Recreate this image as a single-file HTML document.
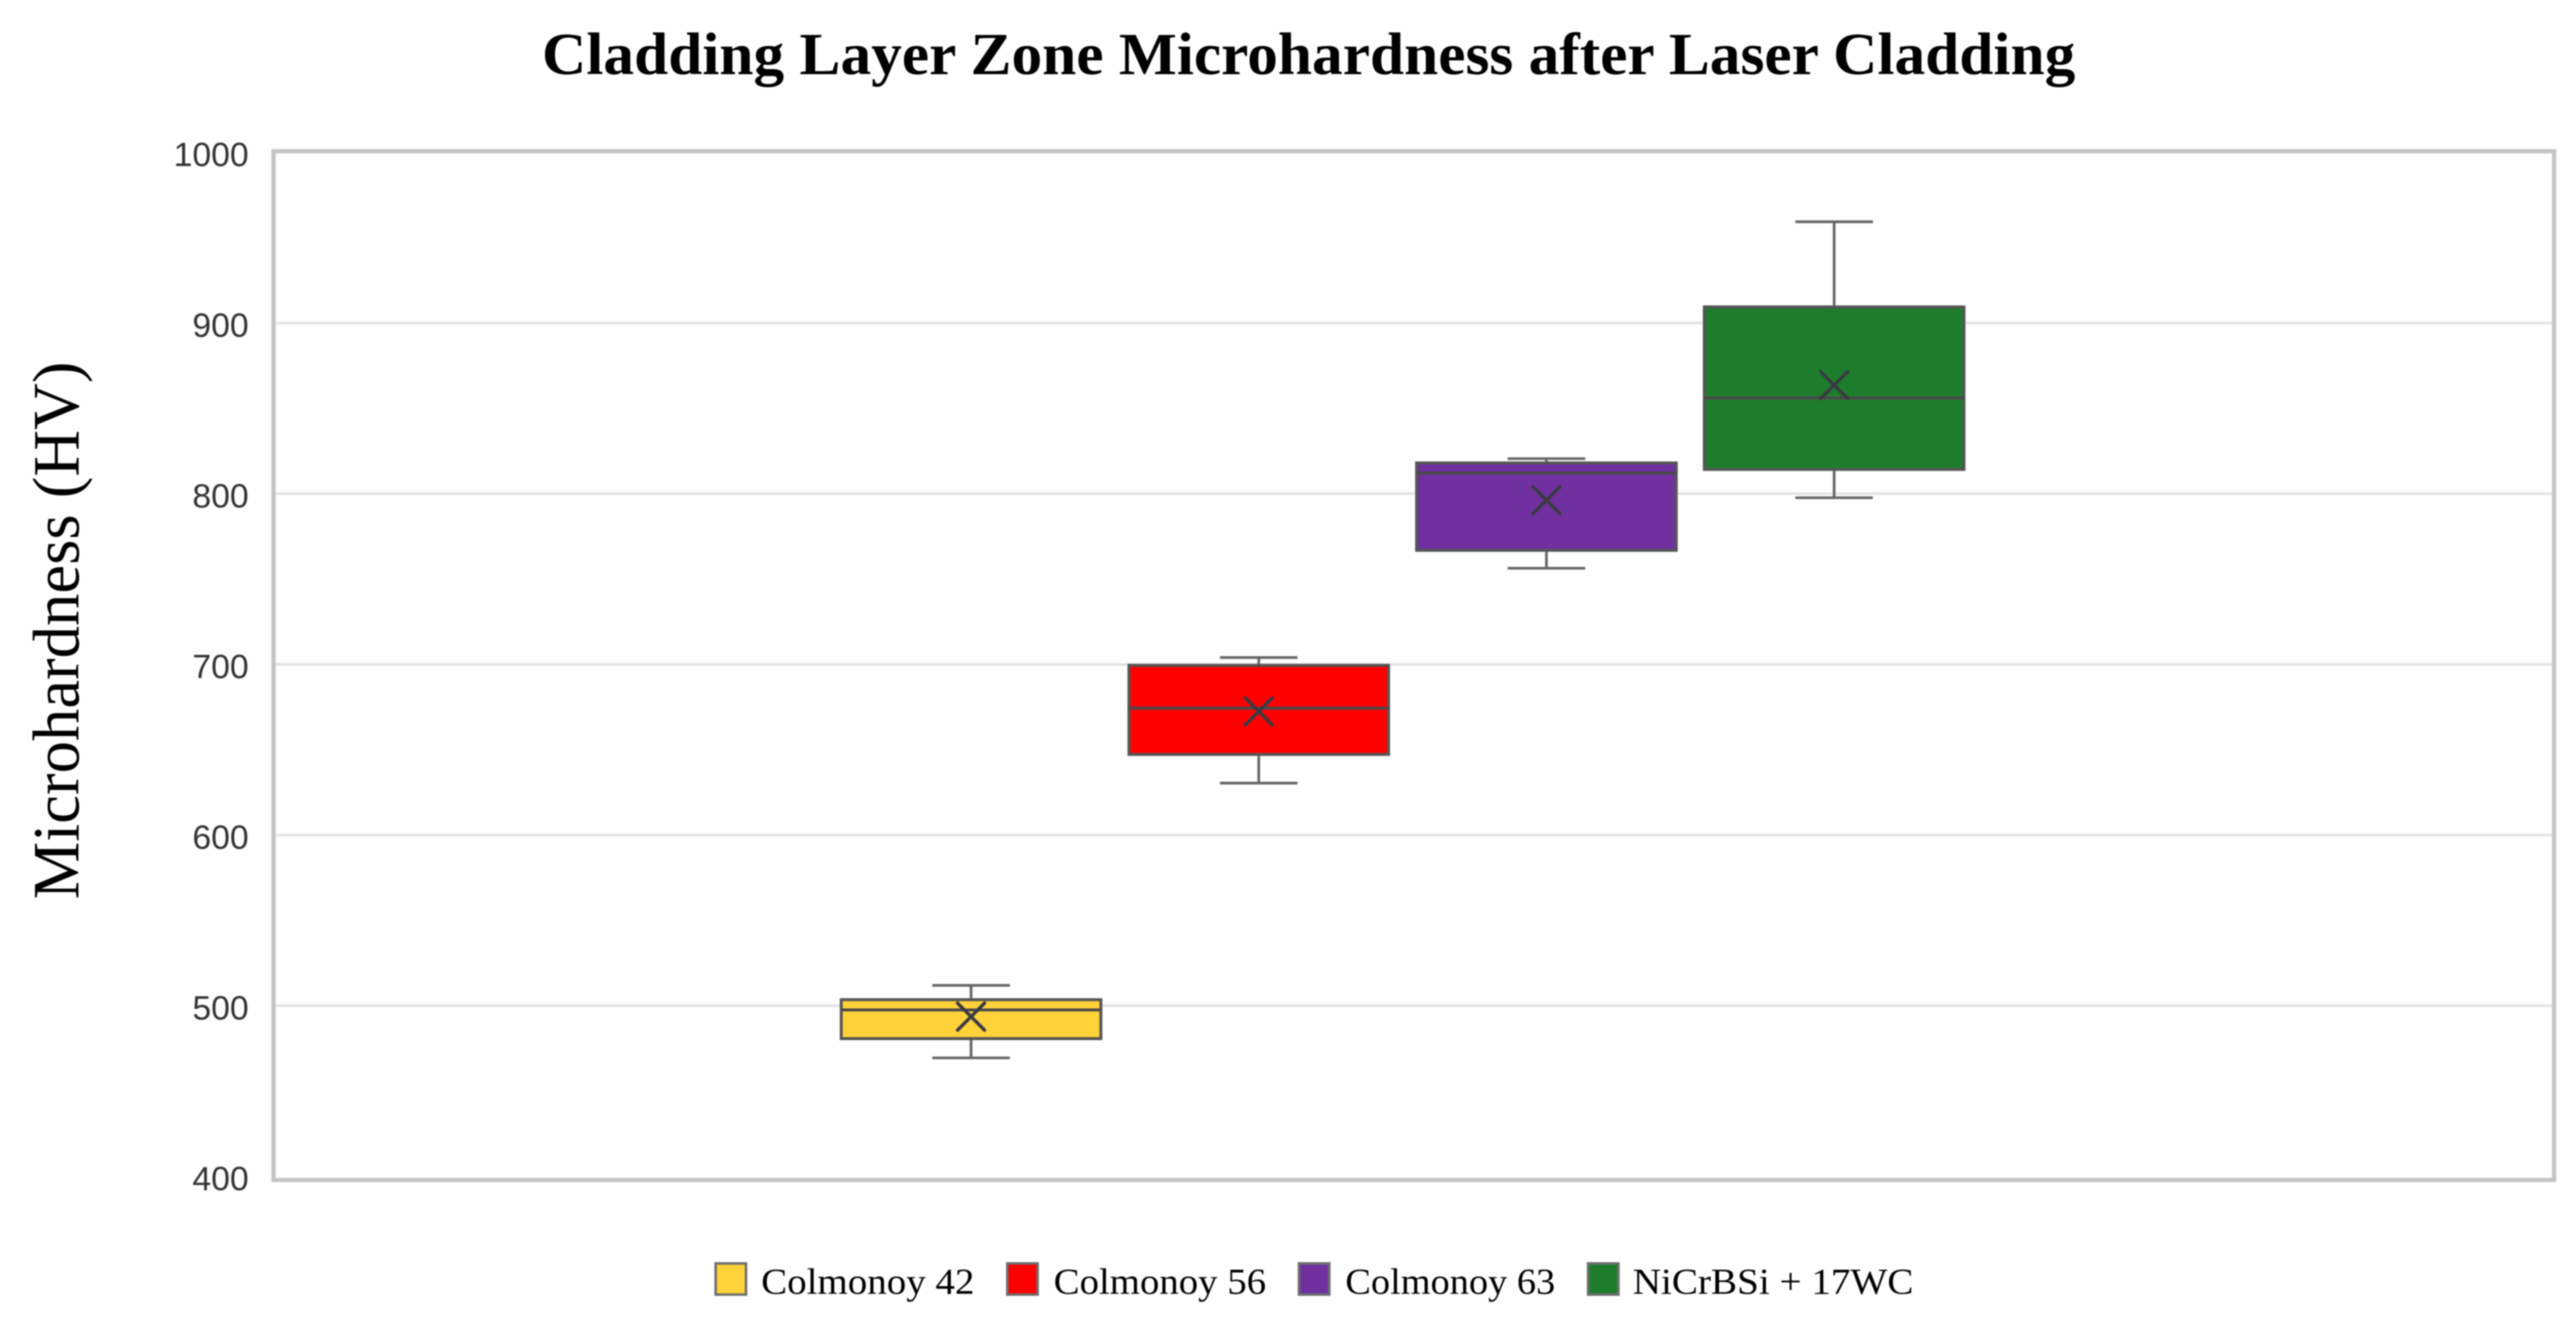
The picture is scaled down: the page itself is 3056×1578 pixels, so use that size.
<!DOCTYPE html>
<html lang="en">
<head>
<meta charset="utf-8">
<title>Cladding Layer Zone Microhardness after Laser Cladding</title>
<style>
  html, body { margin: 0; padding: 0; background: #fefefe; }
  #chart { display: block; width: 3056px; height: 1578px; filter: blur(0.7px); }
  .serif { font-family: "Liberation Serif", serif; }
  .sans { font-family: "Liberation Sans", sans-serif; }
</style>
</head>
<body>
<svg id="chart" xmlns="http://www.w3.org/2000/svg" width="3056" height="1578" viewBox="0 0 3056 1578">
  <rect x="0" y="0" width="3056" height="1578" fill="#fefefe"/>
  <text class="serif" x="643" y="88" font-size="71" font-weight="bold" fill="#000" textLength="1819" lengthAdjust="spacingAndGlyphs">Cladding Layer Zone Microhardness after Laser Cladding</text>
  <text class="serif" transform="translate(93 1067) rotate(-90)" x="0" y="0" font-size="78" fill="#000" textLength="638" lengthAdjust="spacingAndGlyphs">Microhardness (HV)</text>
  <g id="grid"></g>
  <rect x="324.5" y="179.5" width="2705.5" height="1220.5" fill="none" stroke="#c4c4c4" stroke-width="5"/>
  <g id="y-ticks"></g>
  <g id="boxes"></g>
  <g>
    <g>
      <rect x="849" y="1499" width="36" height="37" fill="#ffd23a" stroke="#6f6f6f" stroke-width="3"/>
      <text class="serif" x="903" y="1535" font-size="43" fill="#000" textLength="253" lengthAdjust="spacingAndGlyphs">Colmonoy 42</text>
    </g>
    <g>
      <rect x="1195" y="1499" width="36" height="37" fill="#ff0000" stroke="#6f6f6f" stroke-width="3"/>
      <text class="serif" x="1250" y="1535" font-size="43" fill="#000" textLength="252" lengthAdjust="spacingAndGlyphs">Colmonoy 56</text>
    </g>
    <g>
      <rect x="1541" y="1499" width="36" height="37" fill="#7030a0" stroke="#6f6f6f" stroke-width="3"/>
      <text class="serif" x="1596" y="1535" font-size="43" fill="#000" textLength="249" lengthAdjust="spacingAndGlyphs">Colmonoy 63</text>
    </g>
    <g>
      <rect x="1884" y="1499" width="36" height="37" fill="#1e7d2d" stroke="#6f6f6f" stroke-width="3"/>
      <text class="serif" x="1937" y="1535" font-size="43" fill="#000" textLength="333" lengthAdjust="spacingAndGlyphs">NiCrBSi + 17WC</text>
    </g>
  </g>
</svg>
<script>
// Chart data
const categories = ["Colmonoy 42", "Colmonoy 56", "Colmonoy 63", "NiCrBSi + 17WC"];
const whiskerLow = [469.4, 630.4, 756.3, 797.6];
const q1 = [480.7, 647.2, 766.8, 814.2];
const median = [497.5, 674.3, 812.1, 856.0];
const q3 = [503.5, 699.4, 818.0, 909.4];
const whiskerHigh = [511.9, 704.0, 820.5, 959.3];
const mean = [493.6, 672.4, 796.1, 863.6];
const yTickLabels = [400, 500, 600, 700, 800, 900, 1000];
const boxFills = ["#ffd23a", "#ff0000", "#7030a0", "#1e7d2d"];

const NS = "http://www.w3.org/2000/svg";
const plotLeft = 326, plotRight = 3028;

// Axis functions
function yScale(v) { return 383.2 + (900 - v) * 2.025; }
function xScale(i) { return 1152 + 341.3 * i; }
const boxWidth = 308, capWidth = 92, meanHalf = 16;

function make(tag, attrs, parent) {
  const el = document.createElementNS(NS, tag);
  for (const k in attrs) el.setAttribute(k, attrs[k]);
  parent.appendChild(el);
  return el;
}

const gridGroup = document.getElementById("grid");
const tickGroup = document.getElementById("y-ticks");
yTickLabels.forEach(function (t) {
  const y = yScale(t);
  if (t > yTickLabels[0] && t < yTickLabels[yTickLabels.length - 1]) {
    const line = make("line", { x1: plotLeft, x2: plotRight, y1: y, y2: y, stroke: "#e2e2e2", "stroke-width": 3 }, gridGroup);
    
    
  }
  const label = make("text", { x: 295, y: y + 16.5, "text-anchor": "end", "font-size": 40, fill: "#333", "class": "sans" }, tickGroup);
  
  
  label.textContent = String(t);
});

const boxGroup = document.getElementById("boxes");
categories.forEach(function (cat, i) {
  const cx = xScale(i);
  const g = make("g", {}, boxGroup);
  
  

  const whiskerStyle = { stroke: "#666", "stroke-width": 3.2, fill: "none" };
  const upper = make("line", Object.assign({ x1: cx, x2: cx, y1: yScale(q3[i]), y2: yScale(whiskerHigh[i]) }, whiskerStyle), g);
  
  
  const lower = make("line", Object.assign({ x1: cx, x2: cx, y1: yScale(q1[i]), y2: yScale(whiskerLow[i]) }, whiskerStyle), g);
  
  
  const capHigh = make("line", Object.assign({ x1: cx - capWidth / 2, x2: cx + capWidth / 2, y1: yScale(whiskerHigh[i]), y2: yScale(whiskerHigh[i]) }, whiskerStyle), g);
  
  
  const capLow = make("line", Object.assign({ x1: cx - capWidth / 2, x2: cx + capWidth / 2, y1: yScale(whiskerLow[i]), y2: yScale(whiskerLow[i]) }, whiskerStyle), g);
  
  

  const box = make("rect", { x: cx - boxWidth / 2, y: yScale(q3[i]), width: boxWidth, height: yScale(q1[i]) - yScale(q3[i]), fill: boxFills[i], stroke: "#555", "stroke-width": 3.5 }, g);
  
  

  const med = make("line", { x1: cx - boxWidth / 2, x2: cx + boxWidth / 2, y1: yScale(median[i]), y2: yScale(median[i]), stroke: "#4a4a4a", "stroke-width": 3.5 }, g);
  
  

  const my = yScale(mean[i]);
  const mark = make("path", {
    d: "M" + (cx - meanHalf) + " " + (my - meanHalf) + "L" + (cx + meanHalf) + " " + (my + meanHalf) +
       "M" + (cx + meanHalf) + " " + (my - meanHalf) + "L" + (cx - meanHalf) + " " + (my + meanHalf),
    stroke: "#3a3a42", "stroke-width": 4, fill: "none", "stroke-linecap": "round"
  }, g);
  
  
});
</script>
</body>
</html>
